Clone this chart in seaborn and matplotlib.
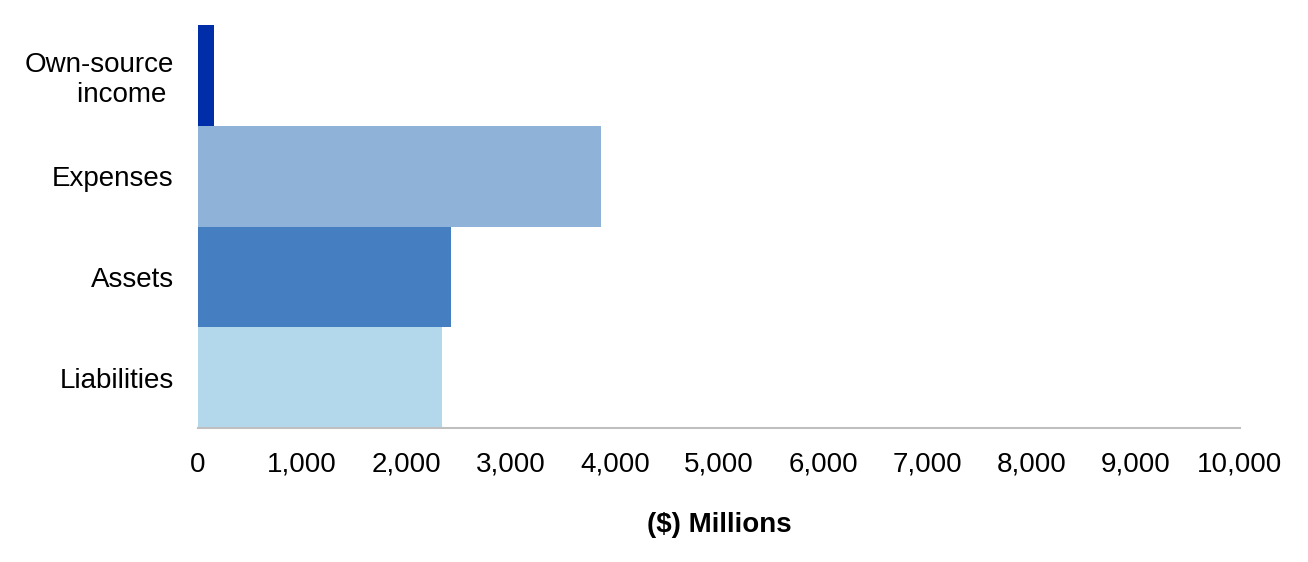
import matplotlib.pyplot as plt
import seaborn as sns
import pandas as pd

categories = ["Own-source\nincome ", "Expenses", "Assets", "Liabilities"]
values = [150, 3865, 2428, 2339]
colors = ["#002DA8", "#8FB2D9", "#457EC1", "#B4D8EB"]

df = pd.DataFrame({"category": categories, "value": values})

sns.set_style("white")
plt.rcParams["font.family"] = ["Liberation Sans", "DejaVu Sans"]
plt.rcParams["text.color"] = "black"
plt.rcParams["xtick.color"] = "black"
plt.rcParams["ytick.color"] = "black"
plt.rcParams["axes.labelcolor"] = "black"

fig = plt.figure(figsize=(13.08, 5.62), dpi=100)
ax = fig.add_axes([0.1514, 0.2384, 0.7966, 0.7171])

sns.barplot(
    data=df,
    x="value",
    y="category",
    hue="category",
    palette=colors,
    width=1.0,
    legend=False,
    saturation=1,
    linewidth=0,
    ax=ax,
)

ax.set_xlim(0, 10000)
ax.set_ylim(3.5, -0.5)
ax.set_xticks(range(0, 10001, 1000))
ax.set_xticklabels([f"{v:,}" for v in range(0, 10001, 1000)])
ax.tick_params(axis="x", labelsize=20, length=0, pad=17)
ax.tick_params(axis="y", labelsize=20, length=0, pad=17.5)
for lbl in ax.get_yticklabels():
    lbl.set_multialignment("right")
    lbl.set_linespacing(1.2)
ax.set_ylabel("")
ax.set_xlabel("($) Millions", fontsize=20, fontweight="bold", labelpad=25)

for side in ["top", "right", "left"]:
    ax.spines[side].set_visible(False)
ax.spines["bottom"].set_color("#BFBFBF")
ax.spines["bottom"].set_linewidth(1.5)

plt.savefig("out.png", dpi=100)
